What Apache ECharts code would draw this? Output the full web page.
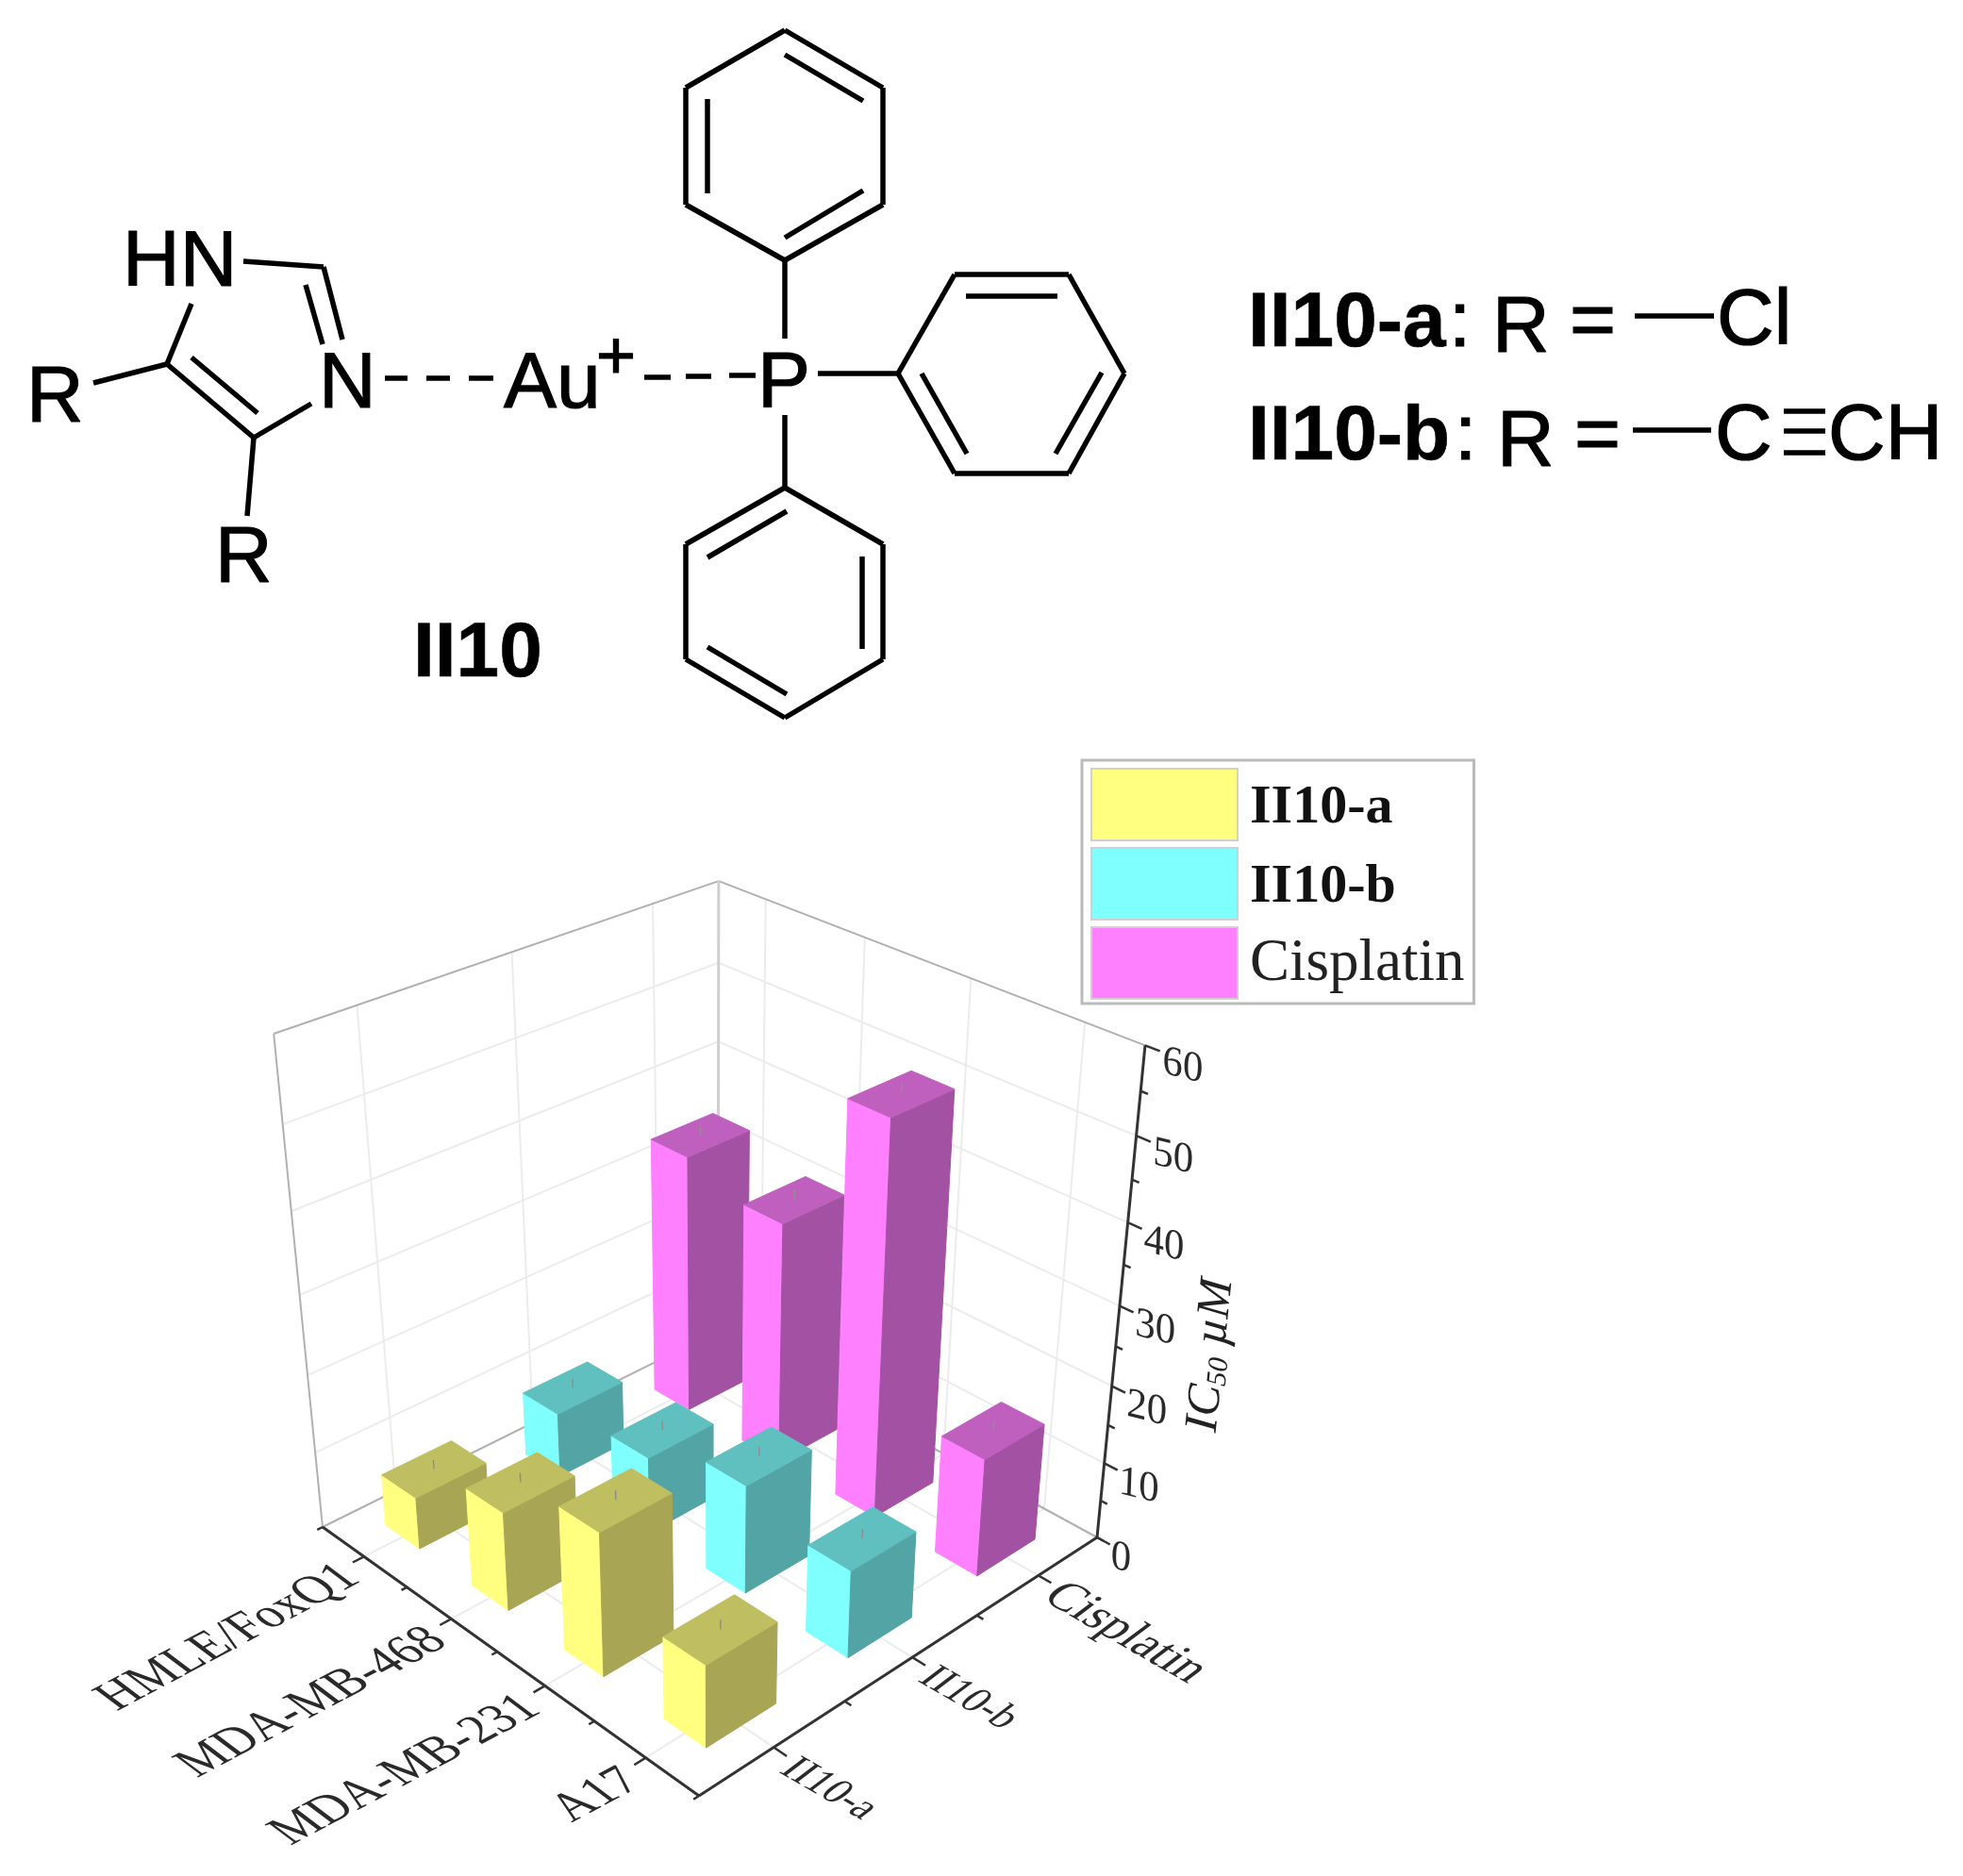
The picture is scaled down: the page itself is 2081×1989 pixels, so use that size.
<!DOCTYPE html>
<html>
<head>
<meta charset="utf-8">
<style>html,body{margin:0;padding:0;background:#fff}#main{width:2081px;height:1989px}</style>
<script src="https://cdn.jsdelivr.net/npm/echarts@6/dist/echarts.min.js"></script>
</head>
<body>
<div id="main"></div>
<script>
// chart data
const cellLines = ['HMLE/FoxQ1', 'MDA-MB-468', 'MDA-MB-231', 'A17']
const compounds = ['II10-a', 'II10-b', 'Cisplatin']
const valuesA = [6.8, 12.7, 18.2, 10.4]
const valuesB = [8.5, 10, 14, 11.2]
const valuesC = [34, 31.5, 50, 15.3]
const valueTicks = [0, 10, 20, 30, 40, 50, 60]
const valueMinorTicks = [5, 15, 25, 35, 45, 55]

// face colours: front, side, top
const palette = [
  ['#ffff80', '#a8a655', '#bfbf62'],
  ['#80ffff', '#53a4a4', '#60bfbf'],
  ['#ff80ff', '#a352a3', '#bf60bf']
]

// perspective box: images of the corners
const O = [741, 1904], Cu = [342, 1619], Cv = [1163, 1630], Cw = [738.8, 1330]
const A = 1.155, B = 1.155, C = 0.8715
const barHalfU = 0.05, barHalfV = 0.08

const project = (u, v, w) => {
  const den = 1 + (A - 1) * u + (B - 1) * v + (C - 1) * w
  const at = k => (O[k] + u * (A * Cu[k] - O[k]) + v * (B * Cv[k] - O[k]) + w * (C * Cw[k] - O[k])) / den
  return [at(0), at(1)]
}
const uOf = i => (cellLines.length - i - 0.5) / cellLines.length
const vOf = j => (j + 0.5) / compounds.length
const wOf = val => echarts.number.linearMap(val, [0, 60], [0, 1])

// one 3D bar per data item
const renderBar = (params, api) => {
  const i = api.value(0), j = api.value(1), w = wOf(api.value(2))
  const uc = uOf(i), vc = vOf(j)
  const u0 = uc - barHalfU, u1 = uc + barHalfU, v0 = vc - barHalfV, v1 = vc + barHalfV
  const pt = (u, v, h) => api.coord(project(u, v, h))
  const z2 = Math.round((2 - uc - vc) * 100)
  const colors = palette[j]
  const face = (points, fill, dz) => ({
    type: 'polygon', z2: z2 + dz, shape: { points }, style: { fill, stroke: fill, lineWidth: 1 }
  })
  return {
    type: 'group',
    children: [
      face([pt(u0, v0, 0), pt(u1, v0, 0), pt(u1, v0, w), pt(u0, v0, w)], colors[0], 0),
      face([pt(u0, v0, 0), pt(u0, v1, 0), pt(u0, v1, w), pt(u0, v0, w)], colors[1], 0),
      face([pt(u0, v0, w), pt(u1, v0, w), pt(u1, v1, w), pt(u0, v1, w)], colors[2], 0),
      {
        type: 'line', z2: z2 + 1,
        shape: { x1: pt(uc, vc, w)[0], y1: pt(uc, vc, w)[1], x2: pt(uc, vc, w + 0.02)[0], y2: pt(uc, vc, w + 0.02)[1] },
        style: { stroke: '#8f8f8f', lineWidth: 1.5 }
      }
    ]
  }
}

// shear per label text, applied once the labels exist
const labelSkew = {}

// walls, floor, axes and their labels
const renderFrame = (params, api) => {
  const children = []
  const seg = (p, q, stroke, lineWidth) => {
    const a = api.coord(project(...p)), b = api.coord(project(...q))
    children.push({ type: 'line', z2: 0, shape: { x1: a[0], y1: a[1], x2: b[0], y2: b[1] }, style: { stroke, lineWidth } })
  }
  const label = (text, p, rotate, skew, align, fontSize, dx, dy) => {
    const a = api.coord(project(...p))
    labelSkew[text] = skew * Math.PI / 180
    children.push({
      type: 'text', z2: 5, x: a[0] + dx, y: a[1] + dy, rotation: rotate * Math.PI / 180,
      style: { text, fill: '#2a2a2a', font: fontSize + 'px "Liberation Serif"', align, verticalAlign: 'middle' }
    })
  }
  const grid = '#ececec', edge = '#b0b0b0', dark = '#333'
  // wall grid
  valueTicks.slice(1, -1).forEach(val => {
    seg([1, 0, wOf(val)], [1, 1, wOf(val)], grid, 2)
    seg([0, 1, wOf(val)], [1, 1, wOf(val)], grid, 2)
  })
  cellLines.forEach((c, i) => {
    seg([uOf(i), 1, 0], [uOf(i), 1, 1], grid, 2)
    seg([uOf(i), 0, 0], [uOf(i), 1, 0], grid, 2)
  })
  compounds.forEach((c, j) => {
    seg([1, vOf(j), 0], [1, vOf(j), 1], grid, 2)
    seg([0, vOf(j), 0], [1, vOf(j), 0], grid, 2)
  })
  // box edges
  seg([1, 0, 1], [1, 1, 1], edge, 2)
  seg([0, 1, 1], [1, 1, 1], edge, 2)
  seg([1, 0, 0], [1, 0, 1], edge, 2)
  seg([1, 1, 0], [1, 1, 1], '#cfcfcf', 3)
  seg([1, 0, 0], [1, 1, 0], edge, 2)
  seg([0, 1, 0], [1, 1, 0], edge, 2)
  // axes
  seg([0, 0, 0], [1, 0, 0], dark, 3)
  seg([0, 0, 0], [0, 1, 0], dark, 3)
  seg([0, 1, 0], [0, 1, 1], dark, 3)
  seg([0, 0, 0], [0, -0.012, 0], dark, 2.5)
  cellLines.forEach((name, i) => {
    seg([uOf(i), 0, 0], [uOf(i), -0.025, 0], dark, 2.5)
    seg([uOf(i) + 0.125, 0, 0], [uOf(i) + 0.125, -0.012, 0], dark, 2.5)
    label(name, [uOf(i), -0.045, 0], 28, 25, 'right', 50, 8, 6)
  })
  compounds.forEach((name, j) => {
    seg([0, vOf(j), 0], [-0.03, vOf(j), 0], dark, 2.5)
    seg([0, vOf(j) + 1 / 6, 0], [-0.015, vOf(j) + 1 / 6, 0], dark, 2.5)
    label(name, [-0.05, vOf(j), 0], -30, -23, 'left', name === 'Cisplatin' ? 50 : 42, -9, 3)
  })
  valueTicks.forEach(val => {
    seg([0, 1, wOf(val)], [-0.03, 1, wOf(val)], dark, 2.5)
    label(String(val), [-0.06, 1, wOf(val)], -14, 12, 'left', 44, -13, 5)
  })
  valueMinorTicks.forEach(val => seg([0, 1, wOf(val)], [-0.015, 1, wOf(val)], dark, 2.5))
  // axis title
  const t = api.coord([1284, 1437])
  children.push({
    type: 'text', z2: 5, x: t[0], y: t[1], rotation: 84 * Math.PI / 180,
    style: {
      text: '{a|IC}{b|50}{a| µM}', align: 'center', verticalAlign: 'middle', fill: '#222',
      rich: {
        a: { fontFamily: 'Liberation Serif', fontStyle: 'italic', fontSize: 50, fill: '#222' },
        b: { fontFamily: 'Liberation Serif', fontStyle: 'italic', fontSize: 30, fill: '#222', verticalAlign: 'bottom' }
      }
    }
  })
  return { type: 'group', children }
}

// molecule drawing, not data
const bonds = [
  [830, 30, 934, 91], [934, 91, 934, 215], [934, 215, 830, 274], [830, 274, 725, 215], [725, 215, 725, 91], [725, 91, 830, 30],
  [830, 56, 913, 105], [748, 103, 748, 203], [830, 250, 913, 200],
  [1010, 289, 1131, 289], [1131, 289, 1190, 394], [1190, 394, 1131, 500], [1131, 500, 1010, 500], [1010, 500, 950, 394], [950, 394, 1010, 289],
  [1022, 312, 1119, 312], [975, 394, 1023, 479], [1166, 393, 1117, 479],
  [830, 515, 934, 575], [934, 575, 934, 697], [934, 697, 830, 759], [830, 759, 725, 697], [725, 697, 725, 575], [725, 575, 830, 515],
  [832, 540, 748, 589], [912, 588, 912, 686], [748, 684, 832, 734],
  [830, 274, 830, 357], [865, 394, 950, 394], [830, 438, 830, 515],
  [681, 398, 709, 398], [725, 397, 752, 397], [771, 396, 799, 396],
  [406, 399, 430, 399], [450, 399, 475, 399], [495, 399, 521, 399],
  [256, 275, 341, 281], [341, 281, 361, 358], [322, 300, 340, 363],
  [201, 320, 175, 384], [175, 384, 267, 462], [201, 377, 271, 436],
  [267, 462, 328, 426], [175, 384, 97, 404], [267, 462, 260, 545],
  [1731, 333, 1815, 333], [1729, 454, 1812, 454],
  [1889, 434, 1933, 434], [1889, 455, 1933, 455], [1889, 478, 1933, 478]
]
const atoms = [
  ['HN', 130, 308, 84], ['N', 338, 437, 84], ['R', 28, 452, 84], ['R', 228, 622, 84],
  ['Au', 534, 437, 84], ['+', 632, 406, 72], ['P', 803, 436, 84],
  ['R', 1582, 378, 84], ['=', 1664, 372, 84], ['Cl', 1820, 370, 84],
  ['R', 1587, 499, 84], ['=', 1669, 493, 84], ['C', 1818, 492, 84], ['CH', 1938, 492, 84],
  [':', 1536, 372, 84], [':', 1542, 492, 84]
]
const boldLabels = [['II10', 438, 722, 82], ['II10-a', 1323, 372, 82], ['II10-b', 1323, 492, 82]]

const textEl = (row, weight, extra) => ({
  type: 'text', x: row[1], y: row[2] - row[3] * 0.34,
  style: { text: row[0], fill: '#000', stroke: '#000', lineWidth: extra, font: weight + ' ' + row[3] + 'px "Liberation Sans"', align: 'left', verticalAlign: 'middle' }
})

const chart = echarts.init(document.getElementById('main'), null, { renderer: 'canvas' })
chart.setOption({
  animation: false,
  backgroundColor: '#fff',
  grid: { left: 0, right: 0, top: 0, bottom: 0 },
  xAxis: { type: 'value', min: 0, max: 2081, show: false },
  yAxis: { type: 'value', min: 0, max: 1989, inverse: true, show: false },
  legend: {
    data: compounds,
    orient: 'vertical',
    left: 1147,
    top: 806,
    padding: [8, 10, 4, 9],
    itemGap: 6,
    itemWidth: 155,
    itemHeight: 76,
    icon: 'rect',
    selectedMode: false,
    backgroundColor: '#fff',
    borderColor: '#bbb',
    borderWidth: 3,
    itemStyle: { borderColor: '#d0d0d0', borderWidth: 2 },
    formatter: name => (name === 'Cisplatin' ? `{n|${name}}` : `{b|${name}}`),
    textStyle: {
      rich: {
        b: { fontFamily: 'Liberation Serif', fontWeight: 'bold', fontSize: 58, color: '#111', padding: [8, 0, 0, 8] },
        n: { fontFamily: 'Liberation Serif', fontSize: 63, color: '#222', padding: [2, 0, 0, 8] }
      }
    }
  },
  graphic: [
    ...bonds.map(b => ({
      type: 'line', shape: { x1: b[0] + 2, y1: b[1] + 2, x2: b[2] + 2, y2: b[3] + 2 }, style: { stroke: '#000', lineWidth: 5.5 }
    })),
    ...atoms.map(a => textEl(a, 'normal', 1.2)),
    ...boldLabels.map(a => textEl(a, 'bold', 0.6))
  ],
  series: [
    { type: 'custom', name: 'frame', silent: true, renderItem: renderFrame, data: [[0, 0]], z: 1, clip: false },
    ...[valuesA, valuesB, valuesC].map((vals, j) => ({
      type: 'custom',
      name: compounds[j],
      silent: true,
      clip: false,
      z: 2,
      itemStyle: { color: palette[j][0] },
      renderItem: renderBar,
      data: vals.map((val, i) => [i, j, val])
    }))
  ]
})

// custom series has no skew option, so shear the rotated axis labels on the zrender side
chart.getZr().storage.traverse(el => {
  if (el.type === 'text' && el.rotation && el.style && labelSkew[el.style.text] !== undefined) {
    el.skewX = labelSkew[el.style.text]
    el.markRedraw()
  }
})
chart.getZr().refresh()
</script>
</body>
</html>
